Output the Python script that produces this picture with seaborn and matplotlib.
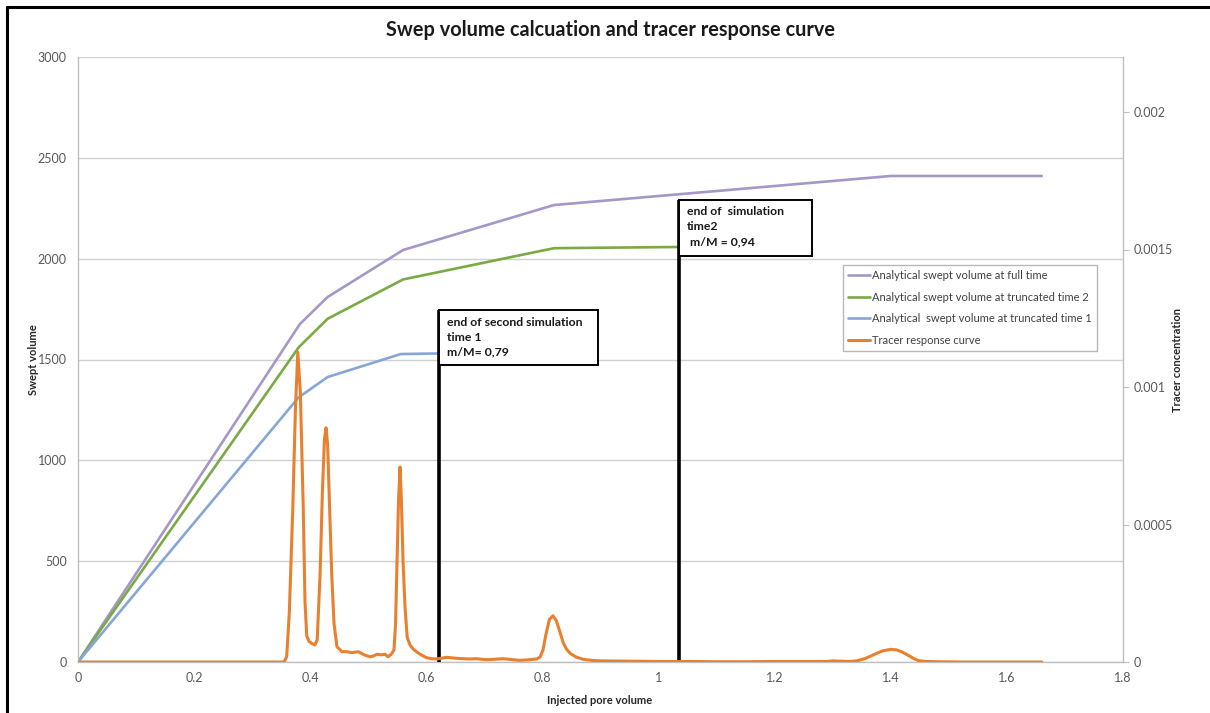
import matplotlib
matplotlib.use("Agg")
import matplotlib.pyplot as plt
from matplotlib.patches import Rectangle
from matplotlib.lines import Line2D
import seaborn as sns

sns.set_style("white")
plt.rcParams["font.family"] = ["Lato", "DejaVu Sans"]

# Analytical swept volume curves (injected pore volume vs swept volume)
pv_full = [0.0, 0.382, 0.43, 0.56, 0.82, 1.40, 1.66]
sv_full = [0, 1675, 1810, 2043, 2266, 2410, 2410]

pv_trunc2 = [0.0, 0.38, 0.43, 0.56, 0.82, 1.037]
sv_trunc2 = [0, 1560, 1702, 1897, 2052, 2058]

pv_trunc1 = [0.0, 0.38, 0.43, 0.556, 0.624]
sv_trunc1 = [0, 1312, 1413, 1527, 1530]

# Tracer response curve (injected pore volume vs concentration)
pv_tracer = [0.0, 0.355, 0.3595, 0.364, 0.370, 0.3745, 0.3786, 0.383, 0.388,
             0.391, 0.394, 0.398, 0.4025, 0.408, 0.412, 0.417, 0.421, 0.4245,
             0.4272, 0.430, 0.434, 0.437, 0.441, 0.446, 0.4545, 0.463, 0.472,
             0.483, 0.493, 0.503, 0.509, 0.515, 0.522, 0.529, 0.534, 0.5395,
             0.5443, 0.547, 0.549, 0.552, 0.5547, 0.557, 0.560, 0.5633, 0.567,
             0.5719, 0.577, 0.583, 0.591, 0.600, 0.609, 0.618, 0.627, 0.635,
             0.645, 0.652, 0.663, 0.675, 0.687, 0.695, 0.704, 0.718, 0.732,
             0.746, 0.761, 0.776, 0.790, 0.796, 0.801, 0.806, 0.812, 0.818,
             0.824, 0.830, 0.836, 0.842, 0.848, 0.858, 0.870, 0.885, 0.900,
             0.950, 1.000, 1.050, 1.100, 1.150, 1.200, 1.250, 1.290, 1.300,
             1.315, 1.330, 1.341, 1.355, 1.370, 1.385, 1.400, 1.410, 1.420,
             1.432, 1.440, 1.448, 1.460, 1.480, 1.520, 1.580, 1.640, 1.660]
conc_tracer = [0.0, 0.0, 0.00002, 0.00018, 0.00056, 0.00092, 0.001127, 0.00098,
               0.00056, 0.00022, 0.000095, 0.000075, 0.000068, 0.000062, 0.00008,
               0.00032, 0.00062, 0.00081, 0.000852, 0.00079, 0.00052, 0.00032,
               0.00014, 0.000056, 0.0000375, 0.0000375, 0.000034, 0.0000375,
               0.000026, 0.000019, 0.000022, 0.000028, 0.000026, 0.000028,
               0.000019, 0.000028, 0.000044, 0.00014, 0.00032, 0.00058, 0.000709,
               0.00059, 0.00036, 0.0002, 0.00009, 0.000062, 0.000048, 0.0000375,
               0.000026, 0.000016, 0.000012, 0.000011, 0.000014, 0.000017,
               0.000015, 0.0000134, 0.000012, 0.000011, 0.000012, 0.00001,
               0.0000084, 0.00001, 0.000012, 0.000009, 0.000006, 0.000008,
               0.000011, 0.000018, 0.000044, 0.0001, 0.000155, 0.000168, 0.00015,
               0.00011, 0.000069, 0.000045, 0.000031, 0.000018, 0.0000098,
               0.000006, 0.000004, 0.000003, 0.000002, 0.000002, 0.000001,
               0.000001, 0.000002, 0.000002, 0.000002, 0.000004, 0.000003,
               0.000002, 0.000004, 0.000012, 0.000026, 0.00004, 0.000046,
               0.000044, 0.000036, 0.000022, 0.000012, 0.000005, 0.000002,
               0.000001, 0.0, 0.0, 0.0, 0.0]

# Ends of the truncated simulations
end_time1 = 0.622
end_time2 = 1.035

x_ticks = [0, 0.2, 0.4, 0.6, 0.8, 1.0, 1.2, 1.4, 1.6, 1.8]
x_tick_labels = ["0", "0.2", "0.4", "0.6", "0.8", "1", "1.2", "1.4", "1.6", "1.8"]
left_ticks = [0, 500, 1000, 1500, 2000, 2500, 3000]
right_ticks = [0, 0.0005, 0.001, 0.0015, 0.002]
right_tick_labels = ["0", "0.0005", "0.001", "0.0015", "0.002"]

c_full = "#A597C8"
c_trunc2 = "#7AAA44"
c_trunc1 = "#85A6D6"
c_tracer = "#E8812F"
tick_color = "#595959"
axis_gray = "#BFBFBF"

fig = plt.figure(figsize=(12.10, 7.13), dpi=100)
ax = fig.add_axes([78 / 1210, 1 - 662 / 713, (1123 - 78) / 1210, (662 - 57) / 713])
ax2 = ax.twinx()

sns.lineplot(x=pv_full, y=sv_full, ax=ax, color=c_full, lw=1.9, sort=False)
sns.lineplot(x=pv_trunc2, y=sv_trunc2, ax=ax, color=c_trunc2, lw=1.9, sort=False)
sns.lineplot(x=pv_trunc1, y=sv_trunc1, ax=ax, color=c_trunc1, lw=1.9, sort=False)
sns.lineplot(x=pv_tracer, y=conc_tracer, ax=ax2, color=c_tracer, lw=2.2, sort=False)

ax.set_xlim(0, 1.8)
ax.set_ylim(0, 3000)
ax2.set_ylim(0, 0.0022)

ax.set_xticks(x_ticks)
ax.set_xticklabels(x_tick_labels)
ax.set_yticks(left_ticks)
ax2.set_yticks(right_ticks)
ax2.set_yticklabels(right_tick_labels)

ax.yaxis.grid(True, color="#D0D0D0", lw=1.0)
ax.set_axisbelow(True)

for a in (ax, ax2):
    a.spines["top"].set_visible(False)
    for s in ("left", "right", "bottom"):
        a.spines[s].set_color(axis_gray)
        a.spines[s].set_linewidth(1.0)
ax.spines["right"].set_visible(False)
ax2.spines["left"].set_visible(False)
ax2.spines["bottom"].set_visible(False)

ax.tick_params(axis="both", length=0, labelsize=9, labelcolor=tick_color, pad=8)
ax.tick_params(axis="x", pad=7)
ax2.tick_params(axis="y", length=4, color=axis_gray, direction="out",
                labelsize=9, labelcolor=tick_color, pad=4)

ax.set_xlabel("Injected pore volume", fontsize=8, fontweight="bold", color="#262626")
ax.set_ylabel("Swept volume", fontsize=8, fontweight="bold", color="#262626")
ax2.set_ylabel("Tracer concentration", fontsize=8, fontweight="bold", color="#262626")
ax.xaxis.set_label_coords((600 - 78) / 1045, -(695 - 662) / 605)
ax.yaxis.set_label_coords(-(78 - 39) / 1045, (662 - 360) / 605)
ax2.yaxis.set_label_coords((1172 - 78) / 1045, (662 - 360) / 605)

fig.text(611 / 1210, 1 - 30 / 713, "Swep volume calcuation and tracer response curve",
         ha="center", va="center", fontsize=14.3, fontweight="bold", color="#1A1A1A")

# Markers for the end of each truncated simulation, with their note boxes
ax.plot([end_time1, end_time1], [0, 1745], color="black", lw=2.6, zorder=6,
        solid_capstyle="butt")
ax.plot([end_time2, end_time2], [0, 2291], color="black", lw=2.6, zorder=6,
        solid_capstyle="butt")
ax.add_patch(Rectangle((end_time1, 1473), 0.896 - end_time1, 1745 - 1473,
                       facecolor="white", edgecolor="black", lw=1.4, zorder=7))
ax.add_patch(Rectangle((end_time2, 2013), 1.2644 - end_time2, 2291 - 2013,
                       facecolor="white", edgecolor="black", lw=1.4, zorder=7))
ax.text(end_time1 + 0.0135, 1745 - 32, "end of second simulation\ntime 1\nm/M= 0,79",
        ha="left", va="top", fontsize=8.8, fontweight="bold", color="#1A1A1A",
        linespacing=1.45, zorder=8)
ax.text(end_time2 + 0.0135, 2291 - 32, "end of  simulation\ntime2\n m/M = 0,94",
        ha="left", va="top", fontsize=8.8, fontweight="bold", color="#1A1A1A",
        linespacing=1.45, zorder=8)

handles = [
    Line2D([], [], color=c_full, lw=1.9),
    Line2D([], [], color=c_trunc2, lw=1.9),
    Line2D([], [], color=c_trunc1, lw=1.9),
    Line2D([], [], color=c_tracer, lw=2.2),
]
labels = [
    "Analytical swept volume at full time",
    "Analytical swept volume at truncated time 2",
    "Analytical  swept volume at truncated time 1",
    "Tracer response curve",
]
leg = ax2.legend(handles, labels, loc="upper left",
                 bbox_to_anchor=((843 - 78) / 1045, (662 - 265) / 605),
                 fontsize=8, frameon=True, fancybox=False, edgecolor="#A6A6A6",
                 handlelength=2.0, handletextpad=0.15, labelspacing=0.95,
                 borderpad=0.45, borderaxespad=0)
leg.get_frame().set_linewidth(1.0)
for t in leg.get_texts():
    t.set_color("#404040")

# Chart frame
fig.add_artist(Line2D([7 / 1210, 7 / 1210], [0, 1 - 7 / 713], color="black", lw=2.2,
                      transform=fig.transFigure))
fig.add_artist(Line2D([7 / 1210, 1], [1 - 7 / 713, 1 - 7 / 713], color="black", lw=2.2,
                      transform=fig.transFigure))

fig.savefig("out.png", dpi=100)
